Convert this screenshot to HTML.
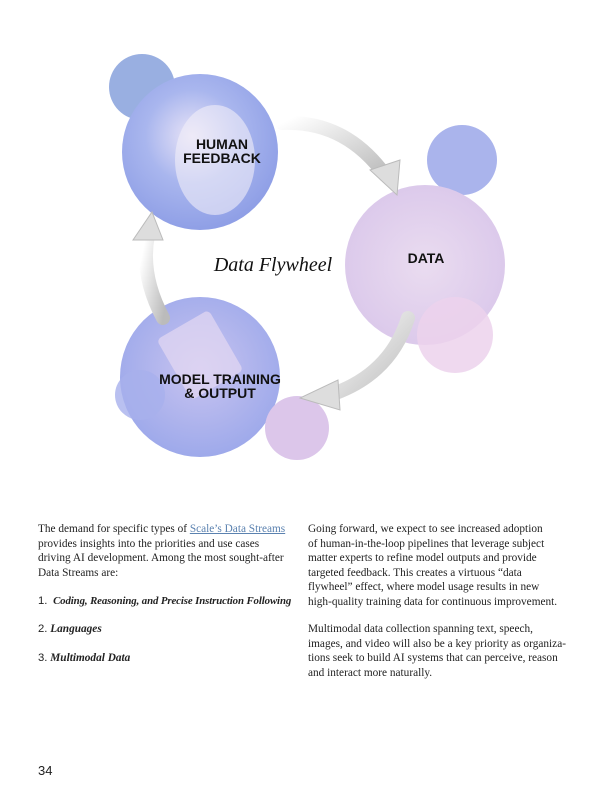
<!DOCTYPE html>
<html><head><meta charset="utf-8"><style>
body{margin:0;width:600px;height:800px;background:#fff;position:relative;overflow:hidden;font-family:"Liberation Serif",serif;}
.t{position:absolute;font-size:11.3px;line-height:14.5px;color:#222;white-space:nowrap}
.lab{font-family:"Liberation Sans",sans-serif;font-weight:bold;font-size:14px;line-height:14px;text-align:center;color:#111;position:absolute}
a{color:#5b82b0;text-decoration:underline}
</style></head><body>
<svg width="600" height="480" style="position:absolute;left:0;top:0">
<defs>
<radialGradient id="g1" cx="45%" cy="40%" r="60%"><stop offset="0" stop-color="#e9e4f7"/><stop offset="0.5" stop-color="#a9b6ee"/><stop offset="1" stop-color="#8f9fe6"/></radialGradient>
<radialGradient id="g2" cx="50%" cy="50%" r="60%"><stop offset="0" stop-color="#eadcf0"/><stop offset="1" stop-color="#d9c6ea"/></radialGradient>
<radialGradient id="g3" cx="50%" cy="45%" r="60%"><stop offset="0" stop-color="#c9c4f0"/><stop offset="1" stop-color="#9aa7ea"/></radialGradient>
<linearGradient id="ar" x1="0" y1="0" x2="1" y2="1"><stop offset="0" stop-color="#fff"/><stop offset="1" stop-color="#bbb"/></linearGradient>
</defs>
<circle cx="142" cy="87" r="33" fill="#8ea6de" opacity="0.9"/>
<circle cx="200" cy="152" r="78" fill="url(#g1)"/>
<ellipse cx="215" cy="160" rx="40" ry="55" fill="#f2eef8" opacity="0.6"/>
<circle cx="462" cy="160" r="35" fill="#aab4ec"/>
<circle cx="425" cy="265" r="80" fill="url(#g2)"/>
<circle cx="455" cy="335" r="38" fill="#ecd2ec" opacity="0.85"/>
<circle cx="200" cy="377" r="80" fill="url(#g3)"/>
<circle cx="140" cy="395" r="25" fill="#a8b0ec" opacity="0.8"/>
<circle cx="297" cy="428" r="32" fill="#dcc6ea"/>
<rect x="170" y="320" width="60" height="70" rx="5" fill="#e4d8f2" opacity="0.7" transform="rotate(-30 200 355)"/>
<path d="M282 123 Q345 120 385 175" stroke="url(#ar)" stroke-width="14" fill="none" stroke-linecap="round"/>
<polygon points="370,170 400,160 397,195" fill="#ddd" stroke="#bbb"/>
<path d="M408 318 Q390 375 330 395" stroke="url(#ar)" stroke-width="14" fill="none" stroke-linecap="round"/>
<polygon points="338,380 340,410 300,398" fill="#ddd" stroke="#bbb"/>
<path d="M163 318 Q140 275 148 235" stroke="url(#ar)" stroke-width="14" fill="none" stroke-linecap="round"/>
<polygon points="133,240 163,240 152,212" fill="#ddd" stroke="#bbb"/>
<text x="273" y="271" text-anchor="middle" font-family="Liberation Serif,serif" font-style="italic" font-size="20" fill="#111">Data Flywheel</text>
</svg>
<div class="lab" style="left:172px;top:137px;width:100px">HUMAN<br>FEEDBACK</div>
<div class="lab" style="left:396px;top:251px;width:60px">DATA</div>
<div class="lab" style="left:150px;top:372px;width:140px">MODEL TRAINING<br>&amp; OUTPUT</div>
<div class="t" style="left:38px;top:522px">The demand for specific types of <a>Scale’s Data Streams</a><br>provides insights into the priorities and use cases<br>driving AI development. Among the most sought-after<br>Data Streams are:</div>
<div class="t" style="left:38px;top:594px"><span style="font-family:'Liberation Sans',sans-serif">1.</span>&nbsp; <b><i style="font-size:10.8px;letter-spacing:-0.1px">Coding, Reasoning, and Precise Instruction Following</i></b></div>
<div class="t" style="left:38px;top:622px"><span style="font-family:'Liberation Sans',sans-serif">2.</span> <b><i>Languages</i></b></div>
<div class="t" style="left:38px;top:651px"><span style="font-family:'Liberation Sans',sans-serif">3.</span> <b><i>Multimodal Data</i></b></div>
<div class="t" style="left:308px;top:522px">Going forward, we expect to see increased adoption<br>of human-in-the-loop pipelines that leverage subject<br>matter experts to refine model outputs and provide<br>targeted feedback. This creates a virtuous “data<br>flywheel” effect, where model usage results in new<br>high-quality training data for continuous improvement.</div>
<div class="t" style="left:308px;top:622px">Multimodal data collection spanning text, speech,<br>images, and video will also be a key priority as organiza-<br>tions seek to build AI systems that can perceive, reason<br>and interact more naturally.</div>
<div class="t" style="left:38px;top:764px;font-family:'Liberation Sans',sans-serif;font-size:13px">34</div>
</body></html>
